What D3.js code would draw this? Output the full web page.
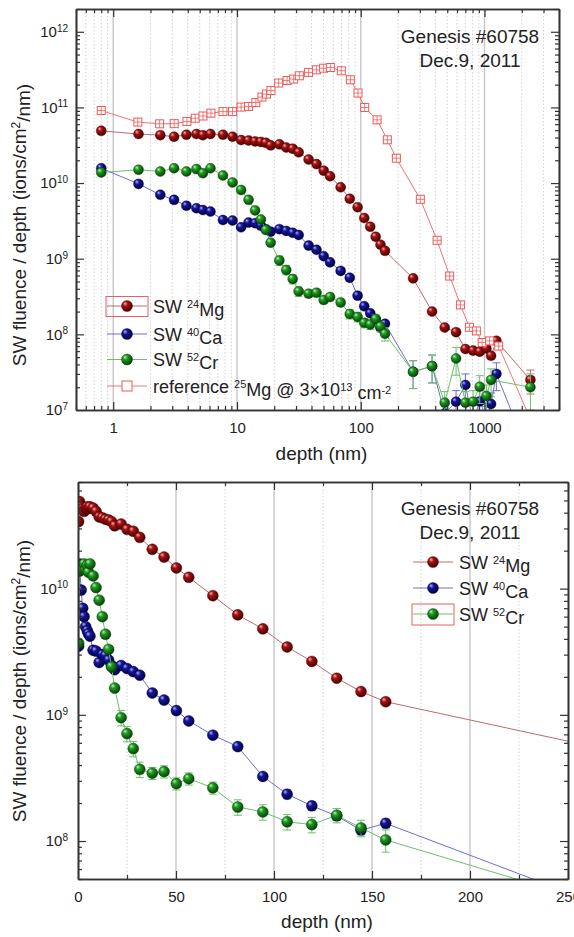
<!DOCTYPE html>
<html>
<head>
<meta charset="utf-8">
<title>Genesis #60758 SW depth profiles</title>
<script src="https://d3js.org/d3.v7.min.js"></script>
<style>
body { margin: 0; background: #fff; }
text { font-family: "Liberation Sans", Arial, sans-serif; fill: #222; }
</style>
</head>
<body>
<div id="chart"></div>
<script>
// depth grid shared by the three SW profiles (nm)
const depth = [0.3, 0.8, 1.6, 2.4, 3.1, 3.9, 4.7, 5.3, 6.1, 7.7, 9.2, 10.8, 12.4, 14.0, 15.6, 17.1, 18.7, 22.0, 25.0, 28.2, 31.5, 37.9, 43.9, 50.2, 56.5, 68.8, 81.5, 94.3, 106.7, 119.3, 132, 144.4, 157, 265, 377, 477, 589, 701, 809, 915, 1036, 1130, 1248, 2350];

// SW fluence / depth (ions/cm2/nm)
const mgFlu = [3.4e10, 4.9e10, 4.45e10, 4.3e10, 4.1e10, 4.35e10, 4.45e10, 4.3e10, 4.45e10, 4.35e10, 4.1e10, 3.7e10, 3.65e10, 3.55e10, 3.5e10, 3.4e10, 3.15e10, 3.25e10, 2.95e10, 2.85e10, 2.55e10, 2.05e10, 1.78e10, 1.46e10, 1.23e10, 8.8e9, 6.2e9, 4.8e9, 3.45e9, 2.65e9, 1.95e9, 1.53e9, 1.27e9, 5.5e8, 2.0e8, 1.23e8, 1.07e8, 6.4e7, 6.1e7, 5.9e7, 6.5e7, 5.2e7, 8.2e7, 2.5e7];
const caFlu = [3.5e9, 1.57e10, 9.75e9, 7.0e9, 6.0e9, 5.0e9, 4.65e9, 4.4e9, 4.2e9, 3.25e9, 3.2e9, 2.6e9, 3.0e9, 2.95e9, 2.72e9, 2.46e9, 2.28e9, 2.46e9, 2.33e9, 2.2e9, 2.06e9, 1.49e9, 1.31e9, 1.08e9, 8.95e8, 6.9e8, 5.6e8, 3.25e8, 2.35e8, 1.9e8, 1.58e8, 1.22e8, 1.38e8, 3.2e7, 3.8e7, 9e6, 1.29e7, 2.14e7, 7e6, 1.3e7, 8e6, 1.2e7, 3.0e7, 2.3e6];
const crFlu = [3.7e9, 1.38e10, 1.5e10, 1.42e10, 1.57e10, 1.42e10, 1.53e10, 1.35e10, 1.57e10, 1.26e10, 1.02e10, 8.1e9, 6.0e9, 4.35e9, 3.3e9, 2.4e9, 1.63e9, 9.5e8, 7.1e8, 5.4e8, 3.7e8, 3.45e8, 3.55e8, 2.85e8, 3.12e8, 2.64e8, 1.86e8, 1.7e8, 1.42e8, 1.35e8, 1.6e8, 1.27e8, 1.02e8, 3.2e7, 3.8e7, 1.25e7, 4.8e7, 1.25e7, 1.29e7, 2.03e7, 1.53e7, 2.5e7, null, 2.0e7];

// relative errors
const mgErr = [0, 0, 0, 0, 0, 0, 0, 0, 0, 0, 0, 0, 0, 0, 0, 0, 0, 0, 0, 0, 0, 0, 0, 0, 0, 0, 0, 0, 0, 0, 0, 0, 0, 0, 0, 0, 0.08, 0.08, 0.08, 0.08, 0.08, 0.08, 0.08, 0.35];
const caErr = [0.03, 0.03, 0.03, 0.03, 0.03, 0.03, 0.03, 0.03, 0.03, 0.03, 0.03, 0.03, 0.03, 0.03, 0.03, 0.03, 0.03, 0.03, 0.03, 0.03, 0.03, 0.03, 0.03, 0.03, 0.03, 0.03, 0.03, 0.03, 0.08, 0.08, 0.08, 0.08, 0.08, 0.4, 0.4, 0.4, 0.4, 0.4, 0.4, 0.4, 0.4, 0.4, 0.4, 0];
const crErr = [0.04, 0.04, 0.04, 0.04, 0.04, 0.04, 0.04, 0.04, 0.04, 0.04, 0.04, 0.04, 0.04, 0.04, 0.04, 0.04, 0.04, 0.14, 0.14, 0.14, 0.14, 0.11, 0.11, 0.11, 0.11, 0.11, 0.14, 0.14, 0.14, 0.14, 0.13, 0.15, 0.2, 0.4, 0.4, 0.4, 0.4, 0.4, 0.4, 0.4, 0.4, 0.4, 0, 0.5];

// reference 25Mg implant @ 3x10^13 cm-2
const refDepth = [0.8, 1.58, 2.37, 3.11, 3.94, 4.6, 5.31, 6.16, 7.7, 9.2, 10.8, 12.4, 14.2, 15.9, 17.3, 18.8, 21.7, 25.4, 28.7, 31.9, 37.9, 43.8, 50.1, 56.8, 69.7, 82.4, 95, 107.6, 135.5, 164, 194, 303, 414, 523, 639, 755, 860, 957, 1100, 1302, 2400];
const refFlu = [9.1e10, 6.4e10, 6.07e10, 6.1e10, 6.5e10, 7.2e10, 7.7e10, 8.4e10, 8.8e10, 8.8e10, 1.01e11, 1.03e11, 1.16e11, 1.37e11, 1.5e11, 1.67e11, 2.1e11, 2.27e11, 2.37e11, 2.62e11, 2.9e11, 3.14e11, 3.3e11, 3.37e11, 3.05e11, 2.32e11, 1.55e11, 9.97e10, 6.85e10, 3.73e10, 2.13e10, 6.1e9, 1.75e9, 5.9e8, 2.45e8, 1.24e8, 1.11e8, 7.8e7, 8.2e7, 7.0e7, 7e6];

// ticks
const xMajorLog = [1, 10, 100, 1000];
const yMajorTop = [1e7, 1e8, 1e9, 1e10, 1e11, 1e12];
const xMajorLin = [0, 50, 100, 150, 200, 250];
const xMinorLin = [25, 75, 125, 175, 225];
const yMajorBot = [1e8, 1e9, 1e10];

const svg = d3.select("#chart").append("svg")
  .attr("width", 574)
  .attr("height", 937);
const defs = svg.append("defs");

const series = [
  {key: "mg", iso: "24", el: "Mg", flu: mgFlu, err: mgErr, hi: "#f2b0b0", base: "#a31212", dark: "#4a0000", line: "#c06a6a"},
  {key: "ca", iso: "40", el: "Ca", flu: caFlu, err: caErr, hi: "#b0b0f4", base: "#16169c", dark: "#000040", line: "#6f6fc8"},
  {key: "cr", iso: "52", el: "Cr", flu: crFlu, err: crErr, hi: "#b8f0b8", base: "#1f9a1f", dark: "#064206", line: "#6cbf6c"}
];

// shaded ball gradients
series.forEach(s => {
  const gr = defs.append("radialGradient").attr("id", "ball-" + s.key)
    .attr("cx", "40%").attr("cy", "38%").attr("r", "62%")
    .attr("fx", "32%").attr("fy", "28%");
  gr.append("stop").attr("offset", "0%").attr("stop-color", s.hi);
  gr.append("stop").attr("offset", "35%").attr("stop-color", s.base);
  gr.append("stop").attr("offset", "100%").attr("stop-color", s.dark);
  s.data = depth.map((d, i) => ({x: d, y: s.flu[i], e: s.err[i]})).filter(p => p.y != null);
});
const refData = refDepth.map((d, i) => ({x: d, y: refFlu[i]}));

function drawBall(sel, s, r) {
  sel.attr("r", r)
    .attr("fill", `url(#ball-${s.key})`)
    .attr("stroke", s.dark)
    .attr("stroke-width", 0.4);
}

function drawSquare(sel, size, cross) {
  sel.append("rect")
    .attr("x", -size / 2).attr("y", -size / 2)
    .attr("width", size).attr("height", size)
    .attr("fill", "#fff").attr("stroke", "#ee5a5a").attr("stroke-width", 1);
  if (cross) {
    sel.append("path")
      .attr("d", `M${-size / 2},0H${size / 2}M0,${-size / 2}V${size / 2}`)
      .attr("stroke", "#ee5a5a").attr("stroke-width", 0.8);
  }
}

function drawPanel(p) {
  const x = p.x, y = p.y;
  const [left, right] = x.range();
  const [bottom, top] = y.range();
  const g = svg.append("g");

  // vertical grid lines
  g.append("g").selectAll("line").data(p.xMinor).join("line")
    .attr("x1", d => x(d)).attr("x2", d => x(d))
    .attr("y1", top).attr("y2", bottom)
    .attr("stroke", "#d2d2d2").attr("stroke-dasharray", "1.5,2");
  g.append("g").selectAll("line").data(p.xMajor.filter(d => d > x.domain()[0] && d < x.domain()[1])).join("line")
    .attr("x1", d => x(d)).attr("x2", d => x(d))
    .attr("y1", top).attr("y2", bottom)
    .attr("stroke", "#c6c6c6").attr("stroke-width", 1.4);

  // data
  defs.append("clipPath").attr("id", p.id + "-clip")
    .append("rect").attr("x", left).attr("y", top)
    .attr("width", right - left).attr("height", bottom - top);
  const plot = g.append("g").attr("clip-path", `url(#${p.id}-clip)`);
  const line = d3.line().x(d => x(d.x)).y(d => y(d.y));
  const keep = d => d.x >= x.domain()[0];

  series.forEach(s => {
    const pts = s.data.filter(keep);
    plot.append("path").datum(pts)
      .attr("d", line).attr("fill", "none")
      .attr("stroke", s.line).attr("stroke-width", 1);
    const eb = plot.append("g").attr("stroke", s.line).attr("stroke-width", 1);
    pts.filter(d => d.e > 0).forEach(d => {
      const y1 = y(d.y * (1 - d.e)), y2 = y(d.y * (1 + d.e)), cx = x(d.x);
      eb.append("path").attr("d", `M${cx},${y1}V${y2}M${cx - 4},${y1}H${cx + 4}M${cx - 4},${y2}H${cx + 4}`);
    });
    plot.append("g").selectAll("circle").data(pts).join("circle")
      .attr("cx", d => x(d.x)).attr("cy", d => y(d.y))
      .call(drawBall, s, p.r);
  });

  if (p.showRef) {
    plot.append("path").datum(refData.filter(keep))
      .attr("d", line).attr("fill", "none")
      .attr("stroke", "#f07474").attr("stroke-width", 1);
    plot.append("g").selectAll("g").data(refData.filter(keep)).join("g")
      .attr("transform", d => `translate(${x(d.x)},${y(d.y)})`)
      .each(function() { drawSquare(d3.select(this), 8, true); });
  }

  // axes, ticks inside the frame
  const ax = (axis, tr) => {
    const a = g.append("g").attr("transform", tr).call(axis)
      .attr("color", "#333").attr("font-size", 15);
    a.select(".domain").attr("stroke-width", 1.6);
    a.selectAll(".tick line").attr("stroke-width", 1.2);
    return a;
  };
  ax(d3.axisBottom(x).tickValues(p.xMinor).tickSize(-4).tickSizeOuter(0).tickFormat(""), `translate(0,${bottom})`);
  ax(d3.axisBottom(x).tickValues(p.xMajor).tickSize(-8).tickSizeOuter(0).tickPadding(12).tickFormat(d3.format("d")), `translate(0,${bottom})`);
  ax(d3.axisTop(x).tickValues(p.xMinor).tickSize(-4).tickSizeOuter(0).tickFormat(""), `translate(0,${top})`);
  ax(d3.axisTop(x).tickValues(p.xMajor).tickSize(-8).tickSizeOuter(0).tickFormat(""), `translate(0,${top})`);

  const yMinor = y.ticks().filter(d => !p.yMajor.includes(d));
  ax(d3.axisLeft(y).tickValues(yMinor).tickSize(-4).tickSizeOuter(0).tickFormat(""), `translate(${left},0)`);
  const gy = ax(d3.axisLeft(y).tickValues(p.yMajor).tickSize(-8).tickSizeOuter(0).tickPadding(p.yPad).tickFormat(""), `translate(${left},0)`);
  gy.selectAll(".tick text").each(function(d) {
    const t = d3.select(this);
    t.append("tspan").text("10");
    t.append("tspan").attr("dy", "-0.55em").attr("font-size", "10px").text(Math.round(Math.log10(d)));
  });
  ax(d3.axisRight(y).tickValues(yMinor).tickSize(-4).tickSizeOuter(0).tickFormat(""), `translate(${right},0)`);
  ax(d3.axisRight(y).tickValues(p.yMajor).tickSize(-8).tickSizeOuter(0).tickFormat(""), `translate(${right},0)`);

  // axis titles
  g.append("text")
    .attr("x", (left + right) / 2 + 4).attr("y", p.xTitleY)
    .attr("text-anchor", "middle").style("font-size", "19px")
    .text("depth (nm)");
  const yt = g.append("text")
    .attr("transform", `translate(26,${p.yTitleY}) rotate(-90)`)
    .attr("text-anchor", "middle").style("font-size", "19px");
  yt.append("tspan").text("SW fluence / depth (ions/cm");
  yt.append("tspan").attr("dy", "-0.5em").style("font-size", "12px").text("2");
  yt.append("tspan").attr("dy", "0.5em").text("/nm)");

  // sample label
  g.append("text").attr("x", 470).attr("y", p.noteY)
    .attr("text-anchor", "middle").style("font-size", "19px").text("Genesis #60758");
  g.append("text").attr("x", 470).attr("y", p.noteY + 23.5)
    .attr("text-anchor", "middle").style("font-size", "19px").text("Dec.9, 2011");
  return g;
}

function legendLabel(t, parts, size) {
  // parts: [text, isSup]
  let up = false;
  parts.forEach(([s, sup]) => {
    const ts = t.append("tspan").text(s);
    if (sup && !up) { ts.attr("dy", "-0.45em").style("font-size", "11px"); up = true; }
    else if (sup) { ts.style("font-size", "11px"); }
    else if (up) { ts.attr("dy", "0.45em"); up = false; }
  });
}

// ---------- top panel: log depth ----------
const xTop = d3.scaleLog().domain([0.5, 4000]).range([76, 559]);
const yTop = d3.scaleLog().domain([1e7, 2e12]).range([410, 9]);
const gTop = drawPanel({
  id: "top", x: xTop, y: yTop, r: 5,
  xMajor: xMajorLog, xMinor: xTop.ticks().filter(d => !xMajorLog.includes(d)),
  yMajor: yMajorTop, yPad: 8, showRef: true,
  xTitleY: 460, yTitleY: 225, noteY: 43
});

// legend (top)
const legTop = gTop.append("g");
const topRows = [306, 334, 359.5, 386];
series.forEach((s, i) => {
  const row = legTop.append("g").attr("transform", `translate(0,${topRows[i]})`);
  row.append("line").attr("x1", 107).attr("x2", 147).attr("stroke", s.line).attr("stroke-width", 1);
  row.append("circle").attr("cx", 127).attr("cy", 0).call(drawBall, s, 5.5);
  const t = row.append("text").attr("x", 153).attr("y", 6.5).style("font-size", "18px");
  legendLabel(t, [["SW ", false], [s.iso, true], [s.el, false]]);
});
{
  const row = legTop.append("g").attr("transform", `translate(0,${topRows[3]})`);
  row.append("line").attr("x1", 107).attr("x2", 147).attr("stroke", "#f07474").attr("stroke-width", 1);
  drawSquare(row.append("g").attr("transform", "translate(127,0)"), 10, false);
  const t = row.append("text").attr("x", 153).attr("y", 6.5).style("font-size", "18px");
  legendLabel(t, [["reference ", false], ["25", true], ["Mg @ 3×10", false], ["13", true], [" cm", false], ["-2", true]]);
}
legTop.append("rect").attr("x", 106).attr("y", 296.5).attr("width", 42).attr("height", 20)
  .attr("fill", "none").attr("stroke", "#e86060").attr("stroke-width", 1);

// ---------- bottom panel: linear depth ----------
const xBot = d3.scaleLinear().domain([0, 250]).range([78, 568]);
const yBot = d3.scaleLog().domain([5e7, 7e10]).range([879, 482]);
const gBot = drawPanel({
  id: "bot", x: xBot, y: yBot, r: 5.5,
  xMajor: xMajorLin, xMinor: xMinorLin,
  yMajor: yMajorBot, yPad: 10, showRef: false,
  xTitleY: 928, yTitleY: 681, noteY: 515
});

// legend (bottom)
const botRows = [562, 588, 614];
series.forEach((s, i) => {
  const row = gBot.append("g").attr("transform", `translate(0,${botRows[i]})`);
  row.append("line").attr("x1", 413).attr("x2", 453).attr("stroke", s.line).attr("stroke-width", 1);
  row.append("circle").attr("cx", 433).attr("cy", 0).call(drawBall, s, 5.5);
  const t = row.append("text").attr("x", 459).attr("y", 6.5).style("font-size", "18px");
  legendLabel(t, [["SW ", false], [s.iso, true], [s.el, false]]);
});
gBot.append("rect").attr("x", 412).attr("y", 604).attr("width", 42).attr("height", 21)
  .attr("fill", "none").attr("stroke", "#e86060").attr("stroke-width", 1);
</script>
</body>
</html>
